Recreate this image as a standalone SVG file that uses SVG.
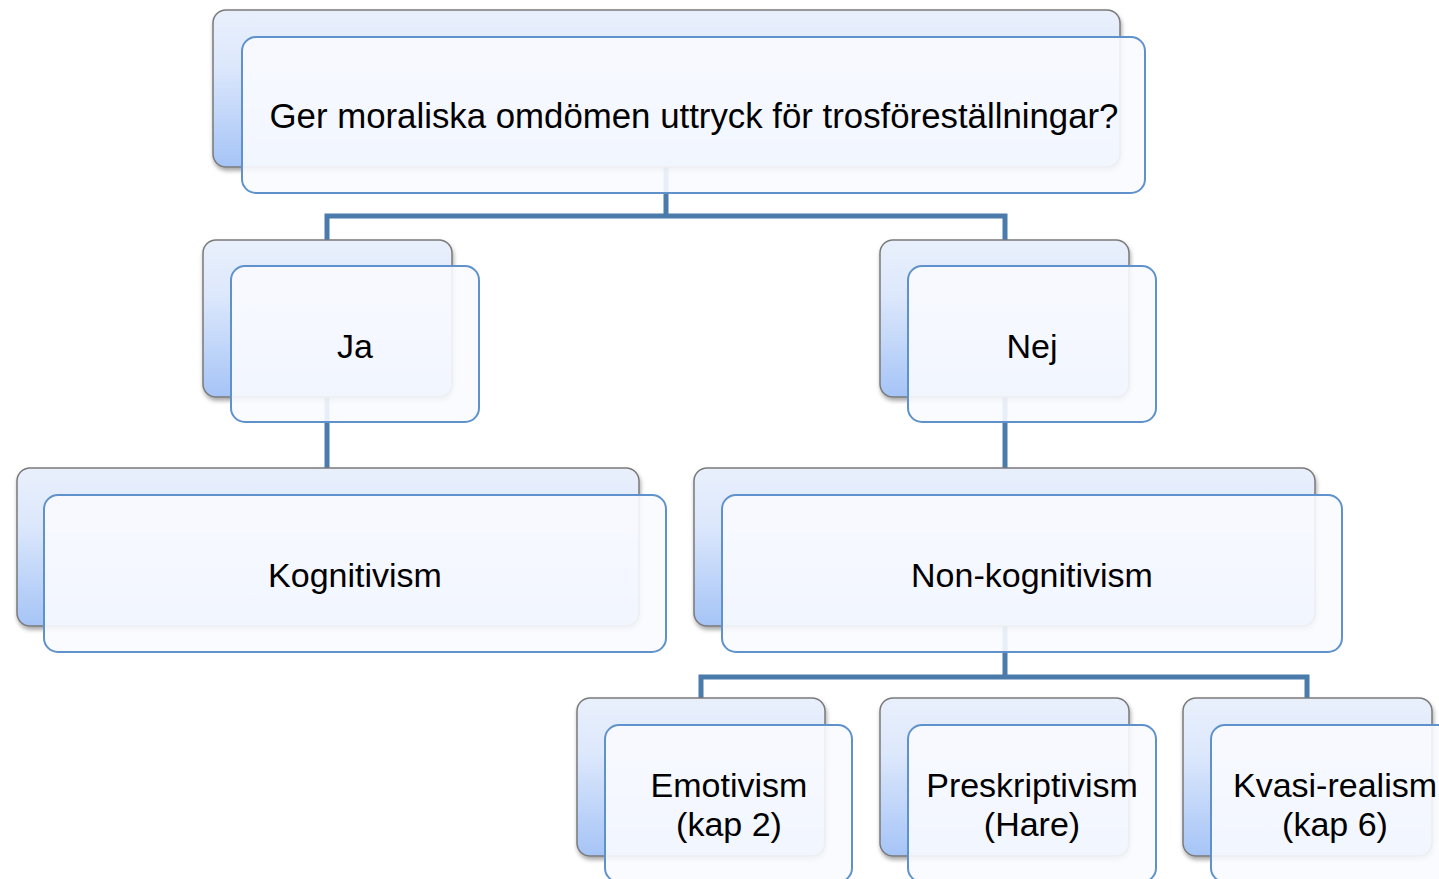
<svg xmlns="http://www.w3.org/2000/svg" width="1439" height="879" viewBox="0 0 1439 879">
<style>
.back{fill:url(#bg);stroke:#7a7a7a;stroke-width:1.5;filter:url(#sh)}
.front{fill:#f9fbff;fill-opacity:0.9;stroke:#5f92cc;stroke-width:2}
.lbl{font-family:"Liberation Sans",Arial,sans-serif;font-size:34px;fill:#000;text-anchor:middle}
.conn{fill:none;stroke:#4b7bab;stroke-width:5}
</style>
<defs>
<linearGradient id="bg" x1="0" y1="0" x2="0" y2="1">
<stop offset="0" stop-color="#e9f0fc"/>
<stop offset="0.35" stop-color="#dde8fc"/>
<stop offset="1" stop-color="#a5c4f6"/>
</linearGradient>
<filter id="sh" x="-10%" y="-10%" width="120%" height="130%">
<feDropShadow dx="1" dy="3" stdDeviation="2" flood-color="#000" flood-opacity="0.35"/>
</filter>
</defs>
<rect width="1439" height="879" fill="#fff"/>
<g id="connectors">
<path class="conn" d="M666,160 V216 M327,240 V216 H1005 V240"/>
<path class="conn" d="M327,390 V468"/>
<path class="conn" d="M1005,390 V468"/>
<path class="conn" d="M1005,620 V677 M701,698 V677 H1307 V698"/>
</g>
<g id="node-root">
<rect class="back" x="213" y="10" width="907" height="157" rx="13"/>
<rect class="front" x="242" y="37" width="903" height="156" rx="14"/>
<text class="lbl" x="694" y="128" style="font-size:34.8px">Ger moraliska omdömen uttryck för trosföreställningar?</text>
</g>
<g id="node-ja">
<rect class="back" x="203" y="240" width="249" height="157" rx="13"/>
<rect class="front" x="231" y="266" width="248" height="156" rx="14"/>
<text class="lbl" x="355" y="358">Ja</text>
</g>
<g id="node-nej">
<rect class="back" x="880" y="240" width="249" height="157" rx="13"/>
<rect class="front" x="908" y="266" width="248" height="156" rx="14"/>
<text class="lbl" x="1032" y="358">Nej</text>
</g>
<g id="node-kognitivism">
<rect class="back" x="17" y="468" width="622" height="158" rx="13"/>
<rect class="front" x="44" y="495" width="622" height="157" rx="14"/>
<text class="lbl" x="355" y="587">Kognitivism</text>
</g>
<g id="node-nonkognitivism">
<rect class="back" x="694" y="468" width="621" height="158" rx="13"/>
<rect class="front" x="722" y="495" width="620" height="157" rx="14"/>
<text class="lbl" x="1032" y="587">Non-kognitivism</text>
</g>
<g id="node-emotivism">
<rect class="back" x="577" y="698" width="248" height="158" rx="13"/>
<rect class="front" x="605" y="725" width="247" height="157" rx="14"/>
<text class="lbl" x="729" y="797">Emotivism</text>
<text class="lbl" x="729" y="836">(kap 2)</text>
</g>
<g id="node-preskriptivism">
<rect class="back" x="880" y="698" width="249" height="158" rx="13"/>
<rect class="front" x="908" y="725" width="248" height="157" rx="14"/>
<text class="lbl" x="1032" y="797">Preskriptivism</text>
<text class="lbl" x="1032" y="836">(Hare)</text>
</g>
<g id="node-kvasirealism">
<rect class="back" x="1183" y="698" width="249" height="158" rx="13"/>
<rect class="front" x="1211" y="725" width="248" height="157" rx="14"/>
<text class="lbl" x="1335" y="797">Kvasi-realism</text>
<text class="lbl" x="1335" y="836">(kap 6)</text>
</g>
</svg>
